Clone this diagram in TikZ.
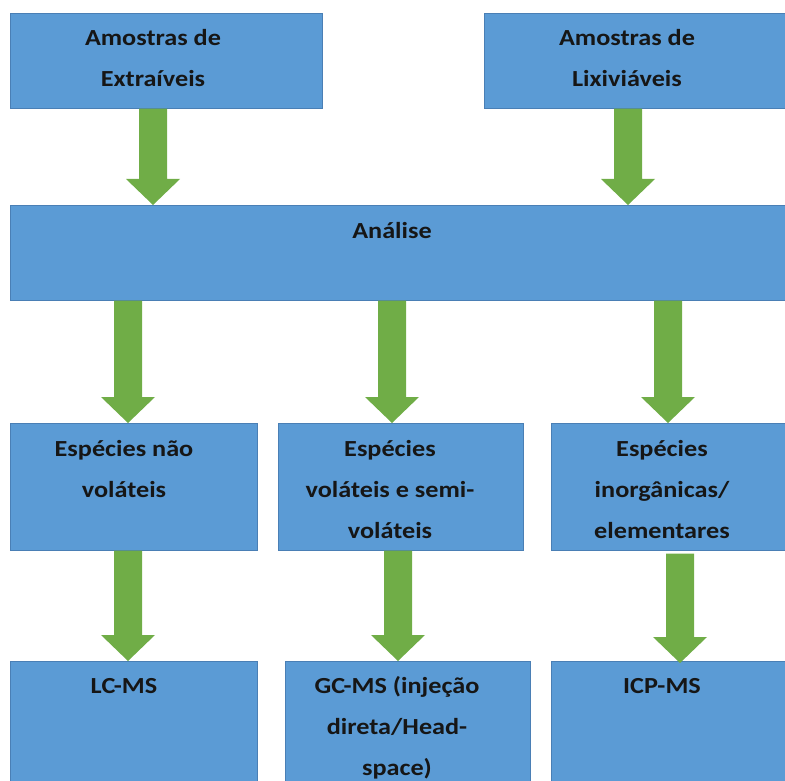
\documentclass[tikz,border=0pt]{standalone}
\usepackage{fontspec}
\setmainfont{Carlito}[FakeStretch=1.14]
\usetikzlibrary{calc}
\definecolor{boxblue}{HTML}{5B9BD5}
\definecolor{boxedge}{HTML}{4A7FB5}
\definecolor{arrowgreen}{HTML}{70AD47}
\definecolor{ink}{HTML}{161616}
\begin{document}
\begin{tikzpicture}[x=1pt,y=-1pt,
  box/.style={draw=boxedge,line width=0.7pt,fill=boxblue,anchor=north west,inner sep=0pt},
  label/.style={anchor=base,align=center,inner sep=0pt,text=ink,
    font={\fontsize{23}{41}\selectfont\bfseries}},
  bigarrow/.style={fill=arrowgreen,to path={
    let \p1=(\tikztostart), \p2=(\tikztotarget) in
    (\x1-14pt,\y1) -- (\x1+14pt,\y1) -- (\x1+14pt,\y2+26pt) -- (\x1+27pt,\y2+26pt)
    -- (\x2,\y2) -- (\x1-27pt,\y2+26pt) -- (\x1-14pt,\y2+26pt) -- cycle}}]
\useasboundingbox (0,0) rectangle (785,781);
\clip (0,0) rectangle (785,781);

% boxes
\node[box,minimum width=312pt,minimum height=95pt] (extB) at (10,13) {};
\node[box,minimum width=306pt,minimum height=95pt] (lixB) at (484,13) {};
\node[box,minimum width=780pt,minimum height=95pt] (anaB) at (10,205) {};
\node[box,minimum width=247pt,minimum height=127pt] (nvB) at (10,423) {};
\node[box,minimum width=245pt,minimum height=127pt] (volB) at (278,423) {};
\node[box,minimum width=239pt,minimum height=127pt] (inoB) at (551,423) {};
\node[box,minimum width=247pt,minimum height=140pt] (lcB) at (10,661) {};
\node[box,minimum width=245pt,minimum height=140pt] (gcB) at (285,661) {};
\node[box,minimum width=239pt,minimum height=140pt] (icpB) at (551,661) {};

% texts (anchored at the baseline of their last line)
\node[label] (extT) at (153,87) {Amostras de\\Extraíveis};
\node[label] (lixT) at (627,87) {Amostras de\\Lixiviáveis};
\node[label] (anaT) at (392,238) {Análise};
\node[label] (nvT) at (124,497) {Espécies não\\voláteis};
\node[label] (volT) at (390,538) {Espécies\\voláteis e semi-\\voláteis};
\node[label] (inoT) at (662,538) {Espécies\\inorgânicas/\\elementares};
\node[label] (lcT) at (124,693) {LC-MS};
\node[label] (gcT) at (397,775) {GC-MS (injeção\\direta/Head-\\space)};
\node[label] (icpT) at (662,693) {ICP-MS};

% arrow columns
\coordinate (c1) at (153,0);
\coordinate (c2) at (628,0);
\coordinate (c3) at (128,0);
\coordinate (c4) at (392,0);
\coordinate (c5) at (668,0);
\coordinate (c6) at (128,0);
\coordinate (c7) at (398,0);
\coordinate (c8) at (680,0);

% arrows
\path[bigarrow] (extB.south -| c1) to (anaB.north -| c1);
\path[bigarrow] (lixB.south -| c2) to (anaB.north -| c2);
\path[bigarrow] (anaB.south -| c3) to (nvB.north -| c3);
\path[bigarrow] (anaB.south -| c4) to (volB.north -| c4);
\path[bigarrow] (anaB.south -| c5) to (inoB.north -| c5);
\path[bigarrow] (nvB.south -| c6) to (lcB.north -| c6);
\path[bigarrow] (volB.south -| c7) to (gcB.north -| c7);
\path[bigarrow] ([yshift=-3pt]inoB.south -| c8) to ([yshift=-2pt]icpB.north -| c8);
\end{tikzpicture}
\end{document}
